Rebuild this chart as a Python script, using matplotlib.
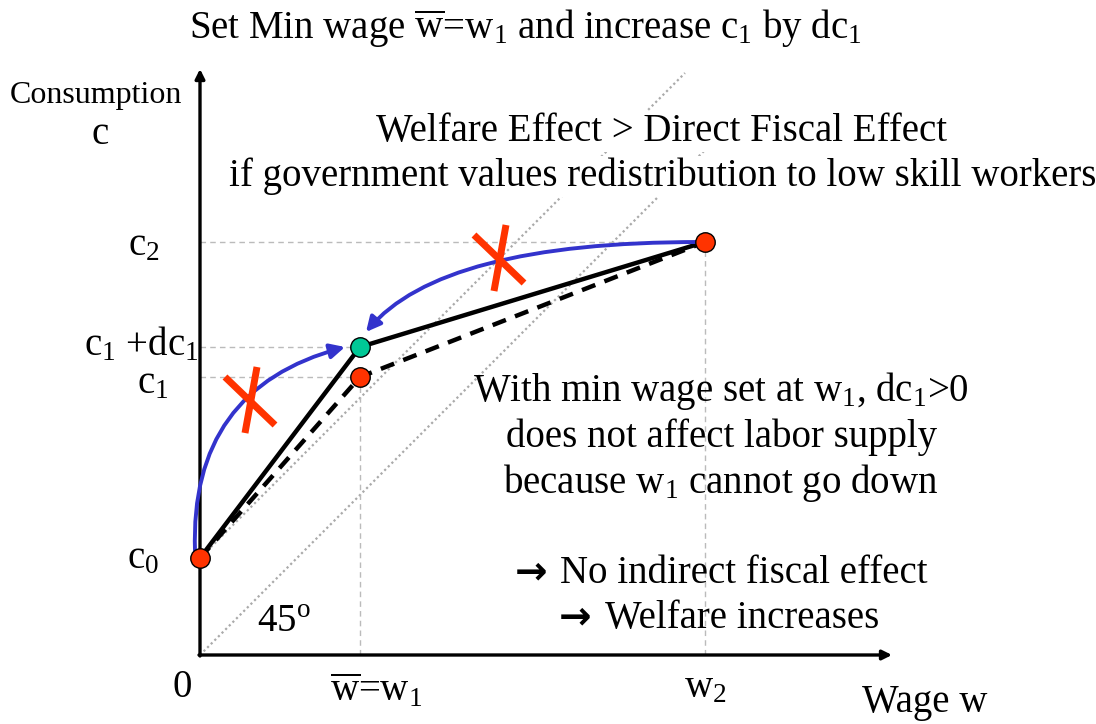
import numpy as np
import matplotlib
matplotlib.use("Agg")
import matplotlib.pyplot as plt
from matplotlib.patches import FancyArrowPatch

plt.rcParams['font.family'] = ['Liberation Serif', 'DejaVu Serif']
plt.rcParams['mathtext.fontset'] = 'custom'
plt.rcParams['mathtext.rm'] = 'Liberation Serif'
plt.rcParams['mathtext.it'] = 'Liberation Serif:italic'

# points of the budget sets (wage w, consumption c)
w_pts = [0.0, 1.6, 5.05]          # 0, w1, w2
c_old = [0.97, 2.78, 4.13]        # c0, c1, c2
c_new = [0.97, 3.08, 4.13]        # c0, c1+dc1, c2
cross_w = [0.50, 2.99]            # red crosses on the blue arrows
cross_c = [2.55, 3.97]
line45_end = [5.3, 4.85]          # w where the dotted 45 degree lines stop (from origin, from c0)

RED = '#FF3300'
GREEN = '#00C896'
BLUE = '#3333CC'
GREY = '#BBBBBB'

fig = plt.figure(figsize=(10.96, 7.24), dpi=100)
ax = fig.add_axes([0, 0, 1, 1])
ax.set_xlim(-2.0, 8.96)
ax.set_ylim(-0.69, 6.55)
ax.axis('off')

# axes arrows
ax.annotate('', xy=(0, 5.86), xytext=(0, -0.01),
            arrowprops=dict(arrowstyle='-|>', lw=2.4, color='black', mutation_scale=14, shrinkA=0, shrinkB=0))
ax.annotate('', xy=(6.92, 0), xytext=(-0.01, 0),
            arrowprops=dict(arrowstyle='-|>', lw=2.4, color='black', mutation_scale=14, shrinkA=0, shrinkB=0))

# dotted 45 degree lines
ax.plot([0, line45_end[0]], [0, line45_end[0]], ls=(0, (1, 1.3)), color='#AAAAAA', lw=1.6, zorder=1)
ax.plot([0, line45_end[1]], [c_old[0], c_old[0] + line45_end[1]], ls=(0, (1, 1.3)),
        color='#AAAAAA', lw=1.6, zorder=1)

# dashed guides
gd = dict(color=GREY, lw=1.0, ls=(0, (4, 3)), zorder=1)
ax.plot([0, w_pts[2]], [c_old[2], c_old[2]], **gd)
ax.plot([w_pts[2], w_pts[2]], [0, c_old[2]], **gd)
ax.plot([0, w_pts[1]], [c_new[1], c_new[1]], **gd)
ax.plot([0, w_pts[1]], [c_old[1], c_old[1]], **gd)
ax.plot([w_pts[1], w_pts[1]], [0, c_old[1]], **gd)

# budget lines
ax.plot(w_pts, c_old, color='black', lw=3.2, dashes=(3.2, 2.2), zorder=3, solid_capstyle='butt')
ax.plot(w_pts, c_new, color='black', lw=3.2, zorder=3)

# blue curved arrows
a1 = FancyArrowPatch((-0.05, c_old[0] + 0.07), (w_pts[1] - 0.15, c_new[1] + 0.0),
                     connectionstyle='angle3,angleA=92,angleB=15', arrowstyle='-|>',
                     mutation_scale=22, lw=2.8, color=BLUE, shrinkA=0, shrinkB=0, zorder=4)
a2 = FancyArrowPatch((w_pts[2] - 0.05, c_old[2]), (w_pts[1] + 0.06, c_new[1] + 0.15),
                     connectionstyle='angle3,angleA=180,angleB=50', arrowstyle='-|>',
                     mutation_scale=22, lw=2.8, color=BLUE, shrinkA=0, shrinkB=0, zorder=4)
ax.add_patch(a1)
ax.add_patch(a2)

# red crosses
for cw, cc in zip(cross_w, cross_c):
    ax.plot([cw - 0.25, cw + 0.25], [cc + 0.23, cc - 0.25], color=RED, lw=5, solid_capstyle='butt', zorder=5)
    ax.plot([cw + 0.07, cw - 0.05], [cc + 0.33, cc - 0.33], color=RED, lw=5, solid_capstyle='butt', zorder=5)

# markers
ax.plot(w_pts, c_old, 'o', ms=14, mfc=RED, mec='black', mew=1, zorder=6)
ax.plot([w_pts[1]], [c_new[1]], 'o', ms=14, mfc=GREEN, mec='black', mew=1, zorder=6)

# text
fs = 28
wbox = dict(facecolor='white', edgecolor='none', pad=1)
ax.text(3.25, 6.17, r'Set Min wage $\overline{\mathrm{w}}$=w$_1$ and increase c$_1$ by dc$_1$',
        ha='center', va='baseline', fontsize=fs)
ax.text(-1.9, 5.6, 'Consumption', ha='left', va='center', fontsize=23)
ax.text(-1.0, 5.2, 'c', ha='center', va='center', fontsize=fs)
ax.text(4.61, 5.14, 'Welfare Effect > Direct Fiscal Effect', ha='center', va='baseline', fontsize=fs,
        bbox=wbox, zorder=2)
ax.text(4.63, 4.69, 'if government values redistribution to low skill workers', ha='center',
        va='baseline', fontsize=fs, bbox=wbox, zorder=2)

ax.text(-0.72, 4.0, r'c$_2$', ha='left', va='baseline', fontsize=fs)
ax.text(-1.16, 3.0, r'c$_1$ +dc$_1$', ha='left', va='baseline', fontsize=fs)
ax.text(-0.63, 2.62, r'c$_1$', ha='left', va='baseline', fontsize=fs)
ax.text(-0.73, 0.87, r'c$_0$', ha='left', va='baseline', fontsize=fs)
ax.text(-0.28, -0.42, '0', ha='left', va='baseline', fontsize=fs)
ax.text(1.30, -0.46, r'$\overline{\mathrm{w}}$=w$_1$', ha='left', va='baseline', fontsize=fs)
ax.text(4.84, -0.42, r'w$_2$', ha='left', va='baseline', fontsize=fs)
ax.text(6.62, -0.57, 'Wage w', ha='left', va='baseline', fontsize=fs)
ax.text(0.57, 0.23, r'45$^\mathrm{o}$', ha='left', va='baseline', fontsize=fs)

lines = [r'With min wage set at w$_1$, dc$_1$>0', 'does not affect labor supply',
         r'because w$_1$ cannot go down']
for i, s in enumerate(lines):
    ax.text(5.21, 2.54 - 0.46 * i, s, ha='center', va='baseline', fontsize=fs)

# bold arrows in front of the conclusions
ax.text(3.15, 0.72, '\u2192', ha='left', va='baseline', fontsize=28, family='DejaVu Sans', weight='bold')
ax.text(3.60, 0.72, 'No indirect fiscal effect', ha='left', va='baseline', fontsize=fs)
ax.text(3.59, 0.27, '\u2192', ha='left', va='baseline', fontsize=28, family='DejaVu Sans', weight='bold')
ax.text(4.05, 0.27, 'Welfare increases', ha='left', va='baseline', fontsize=fs)

fig.savefig('out.png', dpi=100)
